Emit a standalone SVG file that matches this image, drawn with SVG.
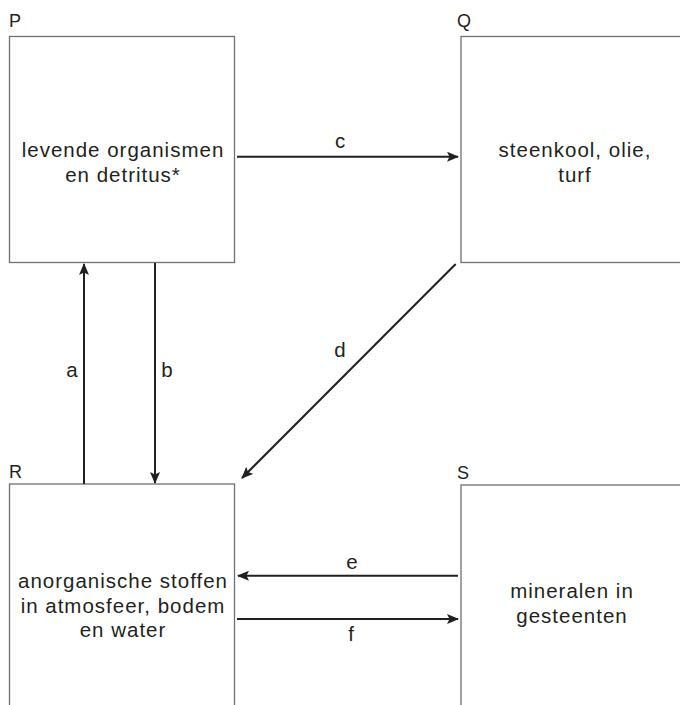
<svg xmlns="http://www.w3.org/2000/svg" width="680" height="705" viewBox="0 0 680 705">
<style>
.box{fill:none;stroke:#6f7072;stroke-width:1.3}
.t{font-family:"Liberation Sans",Arial,sans-serif;font-size:20.5px;fill:#231f20;text-anchor:middle;letter-spacing:1px}
.lbl{font-family:"Liberation Sans",Arial,sans-serif;font-size:18px;fill:#231f20}
.al{font-family:"Liberation Sans",Arial,sans-serif;font-size:20.5px;fill:#231f20;text-anchor:middle}
.c{stroke:#231f20;stroke-width:2;fill:none;marker-end:url(#ah)}
</style>
<defs>
<marker id="ah" viewBox="0 0 12 10" refX="11" refY="5" markerWidth="12" markerHeight="10" markerUnits="userSpaceOnUse" orient="auto">
<path d="M0,0 L12,5 L0,10 L2.5,5 Z" fill="#231f20"/>
</marker>
</defs>
<rect width="680" height="705" fill="#fff"/>
<g id="P">
<rect class="box" x="9.5" y="36.5" width="225" height="226"/>
<text class="lbl" x="9" y="27">P</text>
<text class="t" x="123" y="157">levende organismen</text>
<text class="t" x="123" y="181.5">en detritus*</text>
</g>
<g id="Q">
<rect class="box" x="461" y="36.5" width="240" height="226"/>
<text class="lbl" x="457" y="27">Q</text>
<text class="t" x="575" y="157">steenkool, olie,</text>
<text class="t" x="575" y="181.5">turf</text>
</g>
<g id="R">
<rect class="box" x="9.5" y="484" width="225" height="240"/>
<text class="lbl" x="9" y="478">R</text>
<text class="t" x="123" y="588">anorganische stoffen</text>
<text class="t" x="123" y="612.5">in atmosfeer, bodem</text>
<text class="t" x="123" y="636.5">en water</text>
</g>
<g id="S">
<rect class="box" x="461" y="485" width="240" height="240"/>
<text class="lbl" x="457" y="479">S</text>
<text class="t" x="572" y="598">mineralen in</text>
<text class="t" x="572" y="623">gesteenten</text>
</g>
<g id="connectors">
<line class="c" x1="84" y1="484" x2="84" y2="264"/>
<text class="al" x="72" y="377">a</text>
<line class="c" x1="155" y1="263" x2="155" y2="483"/>
<text class="al" x="167" y="377">b</text>
<line class="c" x1="237" y1="156.7" x2="458" y2="156.7"/>
<text class="al" x="340" y="148">c</text>
<line class="c" x1="455.7" y1="264" x2="242" y2="478"/>
<text class="al" x="340" y="357">d</text>
<line class="c" x1="458" y1="575.7" x2="238" y2="575.7"/>
<text class="al" x="352" y="569">e</text>
<line class="c" x1="237" y1="619" x2="458" y2="619"/>
<text class="al" x="351" y="641">f</text>
</g>
</svg>
